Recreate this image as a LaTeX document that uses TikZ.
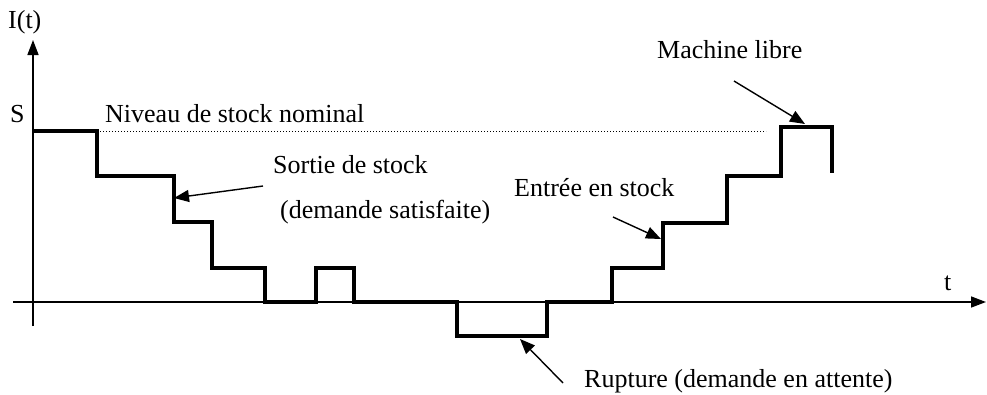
\documentclass[tikz,border=0pt]{standalone}
\usepackage{fontspec}
\setmainfont{Liberation Serif}
\usetikzlibrary{arrows.meta}
\begin{document}
\begin{tikzpicture}[x=1pt,y=-1pt,
  axis/.style={line width=1.5pt,-{Triangle[length=15pt,width=11pt]}},
  stair/.style={line width=3.4pt,line join=miter},
  pointer/.style={line width=1.4pt,-{Triangle[length=15pt,width=12pt]}},
  lbl/.style={inner sep=0pt,anchor=base west,font=\fontsize{26}{30}\selectfont},
  nominal/.style={line width=0.8pt,dash pattern=on 1pt off 2pt}]
\useasboundingbox (0,0) rectangle (987,394);
% axes
\coordinate (ybot) at (33,326);
\coordinate (ytop) at (33,40);
\coordinate (xleft) at (13,302);
\coordinate (xright) at (986,302);
\draw[axis] (ybot) -- (ytop);
\draw[axis] (xleft) -- (xright);
% labels
\node[lbl] (It) at (8,28) {I(t)};
\node[lbl] (S) at (10,122) {S};
\node[lbl] (niv) at (105,122) {Niveau de stock nominal};
\node[lbl] (sortie) at (273,173) {Sortie de stock};
\node[lbl] (dsat) at (280,218) {(demande satisfaite)};
\node[lbl] (entree) at (514,196) {Entrée en stock};
\node[lbl] (mach) at (657,58) {Machine libre};
\node[lbl] (t) at (944,290) {t};
\node[lbl] (rupt) at (584,387) {Rupture (demande en attente)};
% nominal level
\coordinate (n1) at (97,131);
\coordinate (n2) at (766,131);
\draw[nominal] (n1) -- (n2);
% stock curve
\draw[stair] (33,131) -- (97,131) -- (97,176) -- (174,176) -- (174,222) -- (212,222)
  -- (212,268) -- (265,268) -- (265,302) -- (316,302) -- (316,268) -- (354,268)
  -- (354,302) -- (457,302) -- (457,336) -- (547,336) -- (547,302) -- (612,302)
  -- (612,268) -- (663,268) -- (663,223) -- (727,223) -- (727,176) -- (781,176)
  -- (781,127) -- (832,127) -- (832,173);
% pointers
\coordinate (sA) at (263,186); \coordinate (sB) at (174,198);
\coordinate (eA) at (613,217); \coordinate (eB) at (661,239);
\coordinate (mA) at (734,81);  \coordinate (mB) at (805,124);
\coordinate (rA) at (563,383); \coordinate (rB) at (520,339);
\draw[pointer] (sA) -- (sB);
\draw[pointer] (eA) -- (eB);
\draw[pointer] (mA) -- (mB);
\draw[pointer] (rA) -- (rB);
\end{tikzpicture}
\end{document}
